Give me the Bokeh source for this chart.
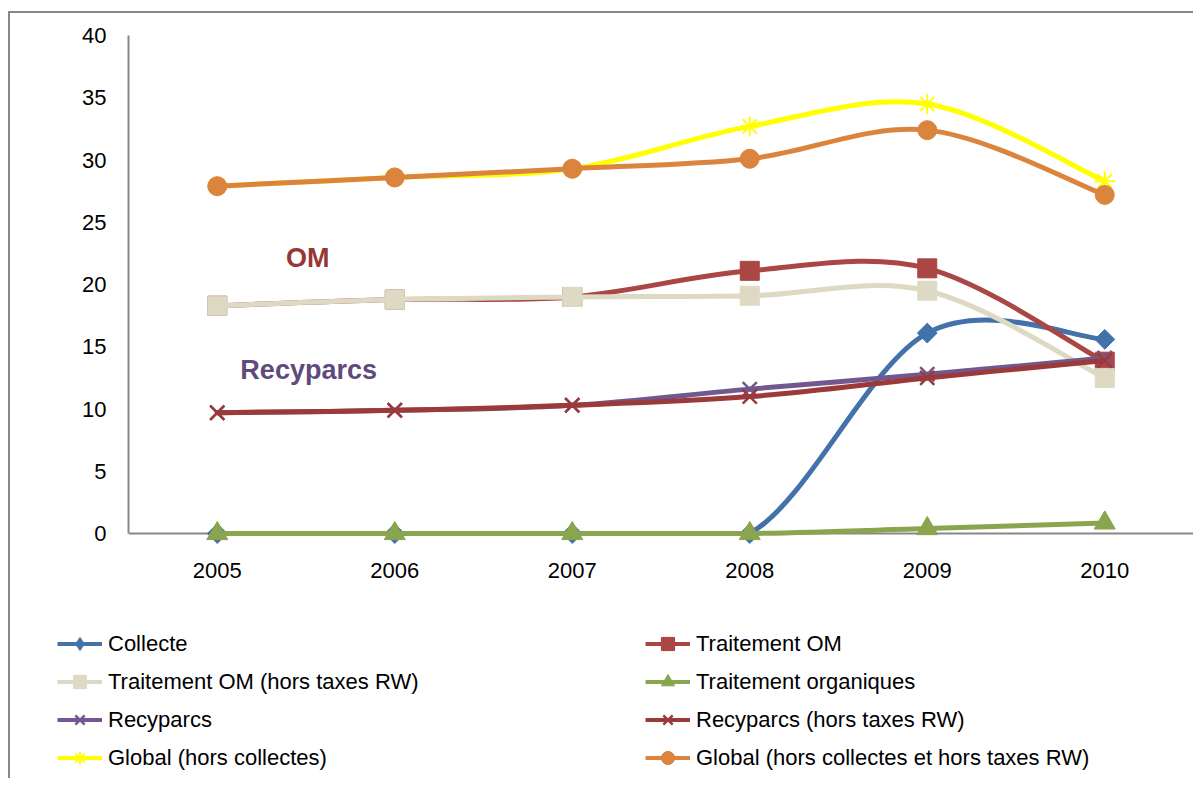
import numpy as np
from bokeh.plotting import figure
from bokeh.layouts import column
from bokeh.models import (Range1d, FixedTicker, Legend, LegendItem, ColumnDataSource,
                          Label, Span)
from bokeh.embed import file_html
from bokeh.resources import INLINE

years = ["2005", "2006", "2007", "2008", "2009", "2010"]
collecte = [0, 0, 0, 0, 16.1, 15.6]
traitement_om = [18.3, 18.8, 19.0, 21.1, 21.3, 13.8]
traitement_om_ht = [18.3, 18.8, 19.0, 19.1, 19.5, 12.5]
traitement_org = [0, 0, 0, 0, 0.4, 0.85]
recyparcs = [9.7, 9.9, 10.3, 11.6, 12.8, 14.1]
recyparcs_ht = [9.7, 9.9, 10.3, 11.0, 12.5, 13.9]
global_hc = [27.9, 28.6, 29.3, 32.7, 34.5, 28.3]
global_hc_ht = [27.9, 28.6, 29.3, 30.1, 32.4, 27.2]

series = [
    ("Collecte", collecte, "#4372AA", "diamond"),
    ("Traitement OM", traitement_om, "#AA4643", "square"),
    ("Traitement OM (hors taxes RW)", traitement_om_ht, "#DDD9C3", "square"),
    ("Traitement organiques", traitement_org, "#89A54E", "triangle"),
    ("Recyparcs", recyparcs, "#71588F", "x"),
    ("Recyparcs (hors taxes RW)", recyparcs_ht, "#9B3A38", "x"),
    ("Global (hors collectes)", global_hc, "#FFFF00", "asterisk"),
    ("Global (hors collectes et hors taxes RW)", global_hc_ht, "#DB843D", "circle"),
]

FONT = "Liberation Sans"
AXIS_GRAY = "#878787"

p = figure(width=1183, height=575, output_backend="svg", toolbar_location=None,
           x_range=Range1d(-0.5, 5.5), y_range=Range1d(-1.2, 40))
p.min_border_left = 118
p.min_border_right = 0
p.min_border_top = 22
p.min_border_bottom = 40
p.outline_line_color = None
p.grid.visible = False
p.frame_align = False

xs = list(range(len(years)))

p.xaxis.ticker = FixedTicker(ticks=xs)
p.xaxis.major_label_overrides = {i: y for i, y in enumerate(years)}
p.xaxis.axis_line_color = None
p.xaxis.major_tick_in = 0
p.xaxis.major_tick_out = 0
p.xaxis.minor_tick_line_color = None
p.xaxis.major_label_standoff = 14
p.xaxis.major_label_text_font = FONT
p.xaxis.major_label_text_font_size = "22px"
p.xaxis.major_label_text_color = "black"

p.yaxis.ticker = FixedTicker(ticks=list(range(0, 41, 5)))
p.yaxis.bounds = (0, 40)
p.yaxis.axis_line_color = AXIS_GRAY
p.yaxis.axis_line_width = 2
p.yaxis.major_tick_in = 0
p.yaxis.major_tick_out = 0
p.yaxis.minor_tick_line_color = None
p.yaxis.major_label_standoff = 22
p.yaxis.major_label_text_font = FONT
p.yaxis.major_label_text_font_size = "22px"
p.yaxis.major_label_text_color = "black"

p.add_layout(Span(location=0, dimension="width", line_color=AXIS_GRAY, line_width=2,
                  level="underlay"))


def bezier_source(xv, yv):
    # Catmull-Rom style smoothing; a flat segment is drawn straight.
    n = len(xv)
    d = dict(x0=[], y0=[], x1=[], y1=[], cx0=[], cy0=[], cx1=[], cy1=[])
    for i in range(n - 1):
        a = max(i - 1, 0)
        b = min(i + 2, n - 1)
        if yv[i] == yv[i + 1]:
            a, b = i, i + 1
        d["x0"].append(xv[i]); d["y0"].append(yv[i])
        d["x1"].append(xv[i + 1]); d["y1"].append(yv[i + 1])
        d["cx0"].append(xv[i] + (xv[i + 1] - xv[a]) / 6.0)
        d["cy0"].append(yv[i] + (yv[i + 1] - yv[a]) / 6.0)
        d["cx1"].append(xv[i + 1] - (xv[b] - xv[i]) / 6.0)
        d["cy1"].append(yv[i + 1] - (yv[b] - yv[i]) / 6.0)
    return ColumnDataSource(d)


def add_marker(fig, src, color, marker, legend=False):
    if marker == "diamond":
        if legend:
            return fig.scatter("x", "y", source=src, marker="diamond", size=14,
                               fill_color=color, line_color=color)
        return fig.scatter("x", "y", source=src, marker="square", size=14,
                           angle=np.pi / 4, fill_color=color, line_color=color)
    if marker in ("x", "asterisk"):
        return fig.scatter("x", "y", source=src, marker=marker, size=20,
                           line_color=color, line_width=2.5 if marker == "x" else 2)
    if marker == "triangle":
        return fig.scatter("x", "y", source=src, marker="triangle", size=21,
                           fill_color=color, line_color=color)
    return fig.scatter("x", "y", source=src, marker=marker, size=19,
                       fill_color=color, line_color=color)


for name, vals, color, marker in series:
    src = bezier_source(xs, vals)
    p.bezier(x0="x0", y0="y0", x1="x1", y1="y1", cx0="cx0", cy0="cy0",
             cx1="cx1", cy1="cy1", source=src, line_color=color, line_width=5,
             line_cap="round")
    add_marker(p, ColumnDataSource(dict(x=xs, y=vals)), color, marker)

p.add_layout(Label(x=0.51, y=22.1, text="OM", text_align="center", text_baseline="middle",
                   text_font=FONT, text_font_size="27px", text_font_style="bold",
                   text_color="#953735"))
p.add_layout(Label(x=0.515, y=13.1, text="Recyparcs", text_align="center",
                   text_baseline="middle", text_font=FONT, text_font_size="27px",
                   text_font_style="bold", text_color="#604A7B"))

# legend figure (legend-only renderers sit outside its visible range)
lf = figure(width=1183, height=190, output_backend="svg", toolbar_location=None,
            x_range=Range1d(0, 1), y_range=Range1d(0, 1), x_axis_type=None,
            y_axis_type=None, min_border=0)
lf.min_border_left = 0
lf.min_border_right = 0
lf.min_border_top = 0
lf.min_border_bottom = 0
lf.outline_line_color = None
lf.grid.visible = False
lf.frame_align = False

items = []
for name, vals, color, marker in series:
    ln = lf.line(x=[-5, -4], y=[-5, -5], line_color=color, line_width=4)
    sc = add_marker(lf, ColumnDataSource(dict(x=[-5], y=[-5])), color, marker, legend=True)
    items.append(LegendItem(label=name, renderers=[ln, sc]))


def make_legend(its, x, y):
    lg = Legend(items=its, location=(x, y), orientation="vertical")
    lg.glyph_width = 45
    lg.glyph_height = 33
    lg.label_height = 33
    lg.spacing = 5
    lg.padding = 0
    lg.margin = 0
    lg.label_standoff = 6
    lg.border_line_color = None
    lg.background_fill_alpha = 0
    lg.label_text_font = FONT
    lg.label_text_font_size = "22px"
    lg.label_text_color = "black"
    return lg


lf.add_layout(make_legend(items[0::2], 47, 4))
lf.add_layout(make_legend(items[1::2], 635, 4))

layout = column(p, lf, spacing=0, margin=(11, 0, 0, 8),
                styles={"border-top": "2px solid #878787",
                        "border-left": "2px solid #878787"})

open("out.html", "w").write(file_html(layout, INLINE))
